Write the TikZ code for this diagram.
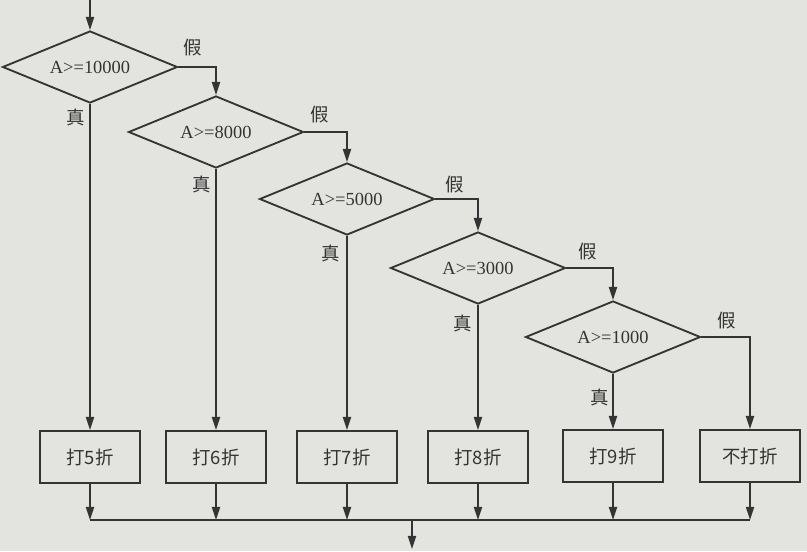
\documentclass[tikz,border=0pt]{standalone}
\usepackage{fontspec}
\setmainfont{Liberation Serif}
\newfontfamily\cjk{Noto Sans CJK SC}
\usetikzlibrary{arrows.meta, positioning, shapes.geometric}
\definecolor{paper}{RGB}{227,227,223}
\definecolor{ink}{RGB}{52,52,52}

\begin{document}
\begin{tikzpicture}[
      x=0.02cm, y=-0.02cm,
      dec/.style={diamond, draw=ink, line width=1.05pt, aspect=2.4, inner sep=0pt,
                  minimum width=3.5cm, minimum height=1.44cm, text=ink,
                  font=\fontsize{10.5}{12}\selectfont},
      act/.style={draw=ink, line width=1.05pt, minimum width=2cm, minimum height=1.04cm,
                  text=ink, font=\cjk\fontsize{10.5}{12}\selectfont},
      arr/.style={-{Triangle[length=7.5pt, width=4.6pt]}, draw=ink, line width=1.05pt},
      bus/.style={draw=ink, line width=1.05pt},
      lbl/.style={font=\cjk\fontsize{10.5}{12}\selectfont, text=ink}]

    \fill[paper] (0,0) rectangle (807,551);
    \useasboundingbox (0,0) rectangle (807,551);

    % ============================================
    % decisions
    % ============================================
    \coordinate (start) at (90,0);
    \node[dec] (d1) at (90, 67) {A>=10000};
    \node[dec] (d2) at (216, 132) {A>=8000};
    \node[dec] (d3) at (347, 199) {A>=5000};
    \node[dec] (d4) at (478, 268) {A>=3000};
    \node[dec] (d5) at (613, 337) {A>=1000};

    % ============================================
    % actions
    % ============================================
    \node[act] (b1) at (90, 457) {打5折};
    \node[act] (b2) at (216, 457) {打6折};
    \node[act] (b3) at (347, 457) {打7折};
    \node[act] (b4) at (478, 457) {打8折};
    \node[act] (b5) at (613, 456) {打9折};
    \node[act] (b6) at (750, 456) {不打折};

    \draw[arr] (start) -- (d1.north);

    % false branches
    \draw[arr] (d1.east) -| (d2.north);
    \draw[arr] (d2.east) -| (d3.north);
    \draw[arr] (d3.east) -| (d4.north);
    \draw[arr] (d4.east) -| (d5.north);
    \draw[arr] (d5.east) -| (b6.north);

    % true branches
    \draw[arr] (d1.south) -- (b1.north);
    \draw[arr] (d2.south) -- (b2.north);
    \draw[arr] (d3.south) -- (b3.north);
    \draw[arr] (d4.south) -- (b4.north);
    \draw[arr] (d5.south) -- (b5.north);

    \node[lbl] (f1) at (193, 48) {假};
    \node[lbl] (f2) at (320, 115) {假};
    \node[lbl] (f3) at (455, 185) {假};
    \node[lbl] (f4) at (588, 252) {假};
    \node[lbl] (f5) at (727, 321) {假};

    \node[lbl] (t1) at (76, 117) {真};
    \node[lbl] (t2) at (202, 184) {真};
    \node[lbl] (t3) at (331, 253) {真};
    \node[lbl] (t4) at (463, 323) {真};
    \node[lbl] (t5) at (600, 397) {真};

    % ============================================
    % merge
    % ============================================
    \coordinate (busL) at (90, 520);
    \foreach \b in {b1, b2, b3, b4, b5, b6} {
        \draw[arr] (\b.south) -- (\b.south |- busL);
    }
    \draw[bus] (b1.south |- busL) -- (b6.south |- busL);
    \coordinate (busout) at (412, 520);
    \coordinate (exit) at (412, 549);
    \draw[arr] (busout) -- (exit);

    \end{tikzpicture}
\end{document}
